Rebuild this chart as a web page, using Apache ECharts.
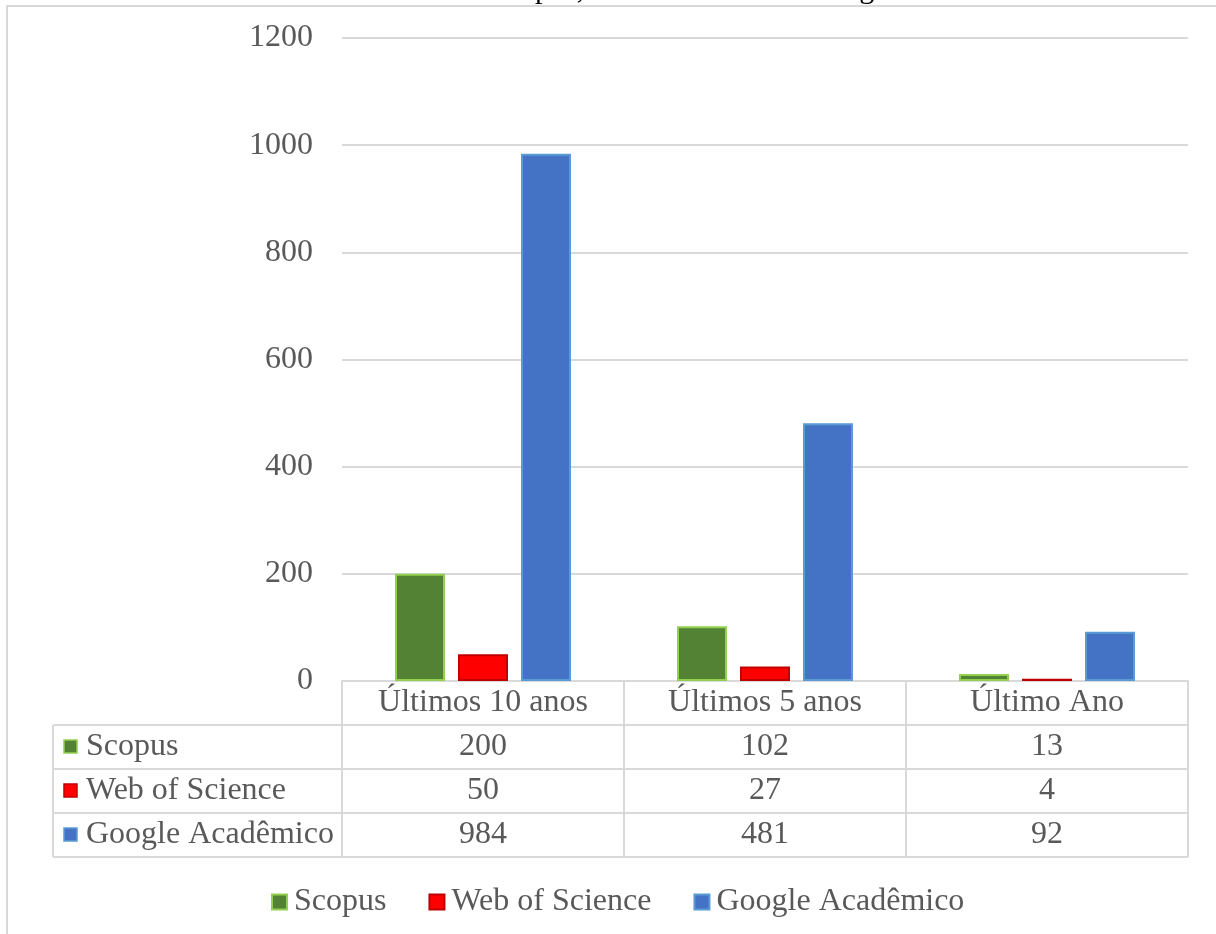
<!DOCTYPE html>
<html>
<head>
<meta charset="utf-8">
<script src="https://cdn.jsdelivr.net/npm/echarts@6/dist/echarts.min.js"></script>
<style>
  html, body { margin: 0; padding: 0; background: #fff; }
  #main { width: 1216px; height: 934px; }
</style>
</head>
<body>
<div id="main"></div>
<script>
// dados
var categories = ['Últimos 10 anos', 'Últimos 5 anos', 'Último Ano'];
var seriesNames = ['Scopus', 'Web of Science', 'Google Acadêmico'];
var scopus = [200, 102, 13];
var webOfScience = [50, 27, 4];
var googleAcademico = [984, 481, 92];
var yTicks = [0, 200, 400, 600, 800, 1000, 1200];
var titleText = 'Scopus, Web of Science e Google Acadêmico';

var FONT = '"Liberation Serif", "Times New Roman", serif';
var FS = 32;
var GRAY = '#595959';
var LINE = '#d9d9d9';
var fills = ['#548235', '#FF0000', '#4472C4'];
var borders = ['#92D050', '#C00000', '#5B9BD5'];
var allData = [scopus, webOfScience, googleAcademico];

// layout da tabela de dados
var gridLeft = 342, gridRight = 1188, gridTop = 38, gridBottom = 681;
var rowH = 44, tableLeft = 53;

var chart = echarts.init(document.getElementById('main'));

// moldura, titulo, linhas e rotulos da tabela
var graphics = [];
graphics.push({
  type: 'rect', shape: { x: 7, y: 6, width: 1230, height: 950 },
  style: { fill: 'none', stroke: LINE, lineWidth: 2 }, z: 1
});
graphics.push({
  type: 'text', x: 490, y: 5,
  style: { text: titleText, font: '30px ' + FONT, fill: '#000', textVerticalAlign: 'bottom' }
});
for (var r = 1; r <= 4; r++) {
  var yy = gridBottom + r * rowH;
  graphics.push({
    type: 'line', shape: { x1: tableLeft, y1: yy, x2: gridRight, y2: yy },
    style: { stroke: LINE, lineWidth: 2 }
  });
}
graphics.push({
  type: 'line', shape: { x1: tableLeft, y1: gridBottom + rowH, x2: tableLeft, y2: gridBottom + 4 * rowH },
  style: { stroke: LINE, lineWidth: 2 }
});
seriesNames.forEach(function (name, i) {
  var cy = gridBottom + rowH * (i + 1) + rowH / 2;
  graphics.push({
    type: 'rect', shape: { x: 64, y: cy - 7, width: 13, height: 13 },
    style: { fill: fills[i], stroke: borders[i], lineWidth: 1.5 }
  });
  graphics.push({
    type: 'text', x: 86, y: cy,
    style: { text: name, font: FS + 'px ' + FONT, fill: GRAY, textVerticalAlign: 'middle' }
  });
});

var option = {
  backgroundColor: '#fff',
  animation: false,
  grid: { left: gridLeft, right: 1216 - gridRight, top: gridTop, bottom: 934 - gridBottom, containLabel: false },
  legend: {
    data: seriesNames,
    left: 266,
    top: 881,
    itemWidth: 15,
    itemHeight: 15,
    itemGap: 42,
    icon: 'rect',
    textStyle: { fontFamily: FONT, fontSize: FS, color: GRAY, padding: [0, 0, 0, 2] }
  },
  xAxis: {
    type: 'category',
    data: categories,
    axisLine: { show: true, lineStyle: { color: LINE, width: 2 } },
    axisTick: { show: true, length: 4 * rowH, interval: 0, lineStyle: { color: LINE, width: 2 } },
    axisLabel: {
      interval: 0,
      margin: 0,
      fontFamily: FONT,
      fontSize: FS,
      lineHeight: rowH,
      color: GRAY,
      formatter: function (value, idx) {
        return [value, scopus[idx], webOfScience[idx], googleAcademico[idx]].join('\n');
      }
    }
  },
  yAxis: {
    type: 'value',
    min: yTicks[0],
    max: yTicks[yTicks.length - 1],
    interval: 200,
    axisLine: { show: false },
    axisTick: { show: false },
    axisLabel: {
      margin: 29, fontFamily: FONT, fontSize: FS, color: GRAY,
      formatter: function (v) { return String(v); }
    },
    splitLine: { lineStyle: { color: LINE, width: 2 } }
  },
  series: seriesNames.map(function (name, i) {
    return {
      name: name,
      type: 'bar',
      data: allData[i],
      barWidth: 50,
      barGap: '26%',
      itemStyle: { color: fills[i], borderColor: borders[i], borderWidth: 2 }
    };
  }),
  graphic: graphics
};

chart.setOption(option);
window.addEventListener('resize', function () { chart.resize(); });
</script>
</body>
</html>
